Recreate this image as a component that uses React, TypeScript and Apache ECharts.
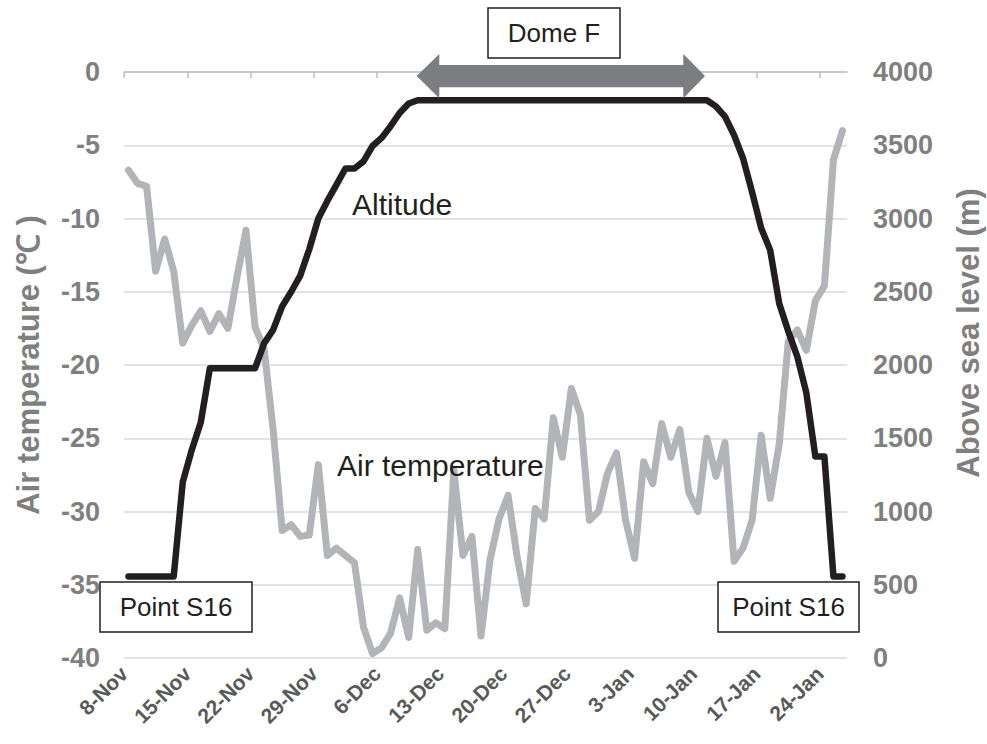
import React, { useEffect, useRef } from 'react';
import * as echarts from 'echarts';

// Day 0 = 8-Nov; daily observations plotted at midday
const tickDays = [0, 7, 14, 21, 28, 35, 42, 49, 56, 63, 70, 77];
const tickLabels = ['8-Nov', '15-Nov', '22-Nov', '29-Nov', '6-Dec', '13-Dec', '20-Dec', '27-Dec', '3-Jan', '10-Jan', '17-Jan', '24-Jan'];

const airTemperature = [
  -6.7, -7.6, -7.8, -13.6, -11.4, -13.6, -18.5, -17.3, -16.3, -17.7,
  -16.5, -17.5, -14.0, -10.8, -17.4, -18.9, -24.4, -31.3, -30.9, -31.7,
  -31.6, -26.8, -33.0, -32.5, -33.0, -33.5, -37.9, -39.7, -39.3, -38.3,
  -35.9, -38.6, -32.6, -38.1, -37.6, -38.0, -27.2, -33.0, -31.7, -38.5,
  -33.3, -30.5, -28.9, -33.1, -36.3, -29.8, -30.5, -23.6, -26.3, -21.6,
  -23.4, -30.6, -30.0, -27.4, -26.0, -30.6, -33.2, -26.6, -28.1, -24.0,
  -26.3, -24.4, -28.7, -30.0, -25.0, -27.6, -25.3, -33.4, -32.5, -30.6,
  -24.8, -29.1, -25.4, -18.4, -17.6, -19.0, -15.6, -14.6, -6.0, -4.0,
];

const altitude = [
  556, 556, 556, 556, 556, 556, 1200, 1420, 1610, 1977,
  1977, 1977, 1977, 1977, 1977, 2148, 2240, 2400, 2500, 2610,
  2790, 3000, 3120, 3230, 3341, 3341, 3390, 3495, 3550, 3630,
  3720, 3785, 3807, 3807, 3807, 3807, 3807, 3807, 3807, 3807,
  3807, 3807, 3807, 3807, 3807, 3807, 3807, 3807, 3807, 3807,
  3807, 3807, 3807, 3807, 3807, 3807, 3807, 3807, 3807, 3807,
  3807, 3807, 3807, 3807, 3807, 3765, 3695, 3570, 3410, 3180,
  2935, 2784, 2420, 2230, 2057, 1810, 1375, 1375, 556, 556,
];

const FONT = '"Liberation Sans", Arial, sans-serif';

export default function App() {
  const ref = useRef<HTMLDivElement>(null);

  useEffect(() => {
    if (!ref.current) return;
    const chart = echarts.init(ref.current, null, { renderer: 'svg' });

    const tempData = airTemperature.map((v, i) => [i + 0.5, v]);
    const altData = altitude.map((v, i) => [i + 0.5, v]);

    const box = (x: number, y: number, w: number, h: number, text: string) => ({
      type: 'group',
      children: [
        {
          type: 'rect',
          shape: { x, y, width: w, height: h },
          style: { fill: '#ffffff', stroke: '#231f20', lineWidth: 1.5 },
          z: 10,
        },
        {
          type: 'text',
          x: x + w / 2,
          y: y + h / 2,
          style: {
            text,
            fill: '#231f20',
            fontSize: 26,
            fontFamily: FONT,
            align: 'center',
            verticalAlign: 'middle',
          },
          z: 11,
        },
      ],
    });

    chart.setOption({
      animation: false,
      backgroundColor: '#ffffff',
      grid: { left: 124, right: 140, top: 72, bottom: 86, containLabel: false },
      xAxis: {
        type: 'value',
        min: 0,
        max: 80,
        interval: 7,
        axisLine: { show: true, lineStyle: { color: '#bfbfbf', width: 1.5 } },
        axisTick: {
          show: true,
          length: 6,
          lineStyle: { color: '#bfbfbf', width: 1.5 },
          customValues: tickDays,
        },
        axisLabel: {
          customValues: tickDays,
          rotate: 45,
          margin: 12,
          color: '#595959',
          fontWeight: 'bold',
          fontSize: 21,
          fontFamily: FONT,
          formatter: (v: number) => {
            const idx = tickDays.indexOf(v);
            return idx >= 0 ? tickLabels[idx] : '';
          },
        },
        splitLine: { show: false },
      },
      yAxis: [
        {
          type: 'value',
          min: -40,
          max: 0,
          interval: 5,
          axisLine: { show: false },
          axisTick: { show: false },
          axisLabel: {
            margin: 24,
            color: '#7f7f7f',
            fontWeight: 'bold',
            fontSize: 27,
            fontFamily: FONT,
            formatter: (v: number) => String(v),
          },
          splitLine: { show: true, lineStyle: { color: '#d9d9d9', width: 1.5 } },
        },
        {
          type: 'value',
          min: 0,
          max: 4000,
          interval: 500,
          position: 'right',
          axisLine: { show: false },
          axisTick: { show: false },
          axisLabel: {
            margin: 26,
            color: '#7f7f7f',
            fontWeight: 'bold',
            fontSize: 27,
            fontFamily: FONT,
            formatter: (v: number) => String(v),
          },
          splitLine: { show: false },
        },
      ],
      series: [
        {
          name: 'Air temperature',
          type: 'line',
          yAxisIndex: 0,
          data: tempData,
          showSymbol: false,
          symbol: 'none',
          lineStyle: { color: '#b3b4b7', width: 7, cap: 'round', join: 'round' },
          z: 2,
        },
        {
          name: 'Altitude',
          type: 'line',
          yAxisIndex: 1,
          data: altData,
          showSymbol: false,
          symbol: 'none',
          lineStyle: { color: '#231f20', width: 6.5, cap: 'round', join: 'round' },
          z: 3,
        },
      ],
      graphic: [
        {
          type: 'text',
          x: 28,
          y: 365,
          rotation: Math.PI / 2,
          style: {
            text: 'Air temperature (℃ )',
            fill: '#7f7f7f',
            fontSize: 31,
            fontWeight: 'bold',
            fontFamily: FONT,
            align: 'center',
            verticalAlign: 'middle',
          },
        },
        {
          type: 'text',
          x: 968,
          y: 333,
          rotation: Math.PI / 2,
          style: {
            text: 'Above sea level (m)',
            fill: '#7f7f7f',
            fontSize: 31,
            fontWeight: 'bold',
            fontFamily: FONT,
            align: 'center',
            verticalAlign: 'middle',
          },
        },
        {
          type: 'text',
          x: 352,
          y: 204,
          style: {
            text: 'Altitude',
            fill: '#231f20',
            fontSize: 30,
            fontFamily: FONT,
            align: 'left',
            verticalAlign: 'middle',
          },
          z: 5,
        },
        {
          type: 'text',
          x: 337,
          y: 465,
          style: {
            text: 'Air temperature',
            fill: '#231f20',
            fontSize: 30,
            fontFamily: FONT,
            align: 'left',
            verticalAlign: 'middle',
          },
          z: 5,
        },
        {
          type: 'polygon',
          shape: {
            points: [
              [416.7, 76], [439.3, 54], [439.3, 65], [683.3, 65], [683.3, 54],
              [705, 76], [683.3, 98.3], [683.3, 87.3], [439.3, 87.3], [439.3, 98.3],
            ],
          },
          style: { fill: '#7c7d80' },
          z: 4,
        },
        box(488, 8, 132, 50, 'Dome F'),
        box(100, 582, 152, 50, 'Point S16'),
        box(718, 582, 141, 50, 'Point S16'),
      ],
    });

    return () => chart.dispose();
  }, []);

  return (
    <div
      ref={ref}
      style={{ position: 'fixed', left: 0, top: 0, width: 987, height: 744 }}
    />
  );
}
